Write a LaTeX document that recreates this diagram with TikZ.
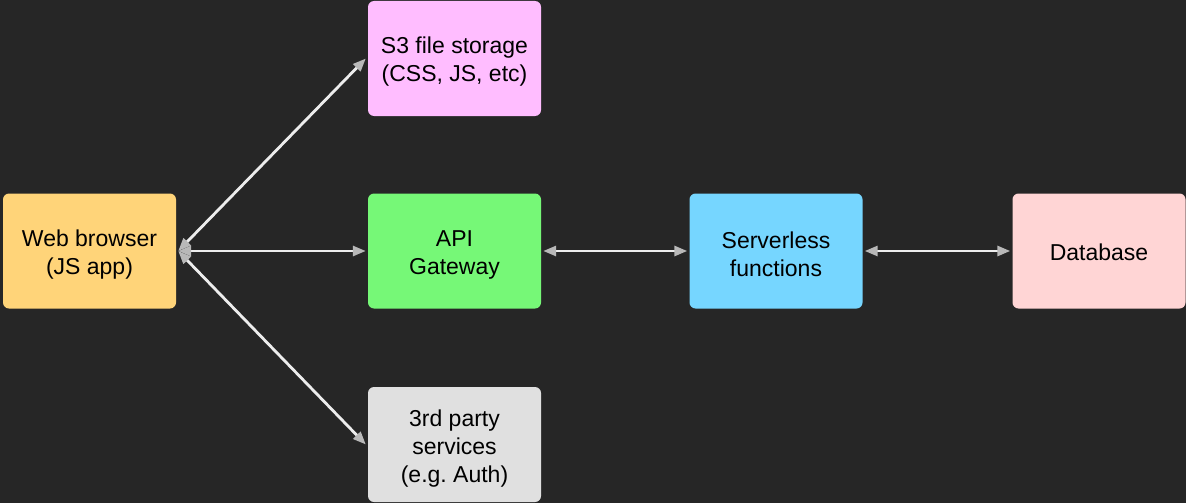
\documentclass[tikz,border=0pt]{standalone}
\usepackage{fontspec}
\setmainfont{Liberation Sans}
\usetikzlibrary{arrows.meta}
\frenchspacing
\definecolor{bg}{HTML}{262626}
\definecolor{cBrowser}{HTML}{FFD479}
\definecolor{cStore}{HTML}{FFBDFF}
\definecolor{cApi}{HTML}{76F877}
\definecolor{cFunc}{HTML}{76D6FF}
\definecolor{cDb}{HTML}{FFD5D5}
\definecolor{cThird}{HTML}{E0E0E0}
\definecolor{linkline}{HTML}{EDEDED}
\definecolor{linktip}{HTML}{B8B8B8}
\tikzset{
  box/.style={rounded corners=6pt, minimum width=173pt, minimum height=115pt,
    inner sep=0pt},
  boxtext/.style={inner sep=0pt, align=center, text=black,
    font=\fontsize{23pt}{28pt}\selectfont},
  link/.style={draw=linkline, line width=2.8pt,
    {Triangle[length=13pt,width=10pt,color=linktip]}-{Triangle[length=13pt,width=10pt,color=linktip]}}
}
\begin{document}
\begin{tikzpicture}[x=1pt,y=-1pt]
  \fill[bg] (0,0) rectangle (1186,503);
  \useasboundingbox (0,0) rectangle (1186,503);

  % boxes
  \node[box, fill=cBrowser] (browser) at (89.5,251) {};
  \node[box, fill=cStore]   (store)   at (454.5,58.5) {};
  \node[box, fill=cApi]     (api)     at (454.5,251) {};
  \node[box, fill=cThird]   (third)   at (454.5,444.5) {};
  \node[box, fill=cFunc]    (func)    at (776,251) {};
  \node[box, fill=cDb]      (db)      at (1099,251) {};

  % labels, set slightly below each box centre
  \node[boxtext] (browser-t) at ([yshift=-3.5pt]browser.center) {Web browser\\(JS app)};
  \node[boxtext] (store-t)   at ([yshift=-3.5pt]store.center)   {S3 file storage\\(CSS, JS, etc)};
  \node[boxtext] (api-t)     at ([yshift=-3.5pt]api.center)     {API\\Gateway};
  \node[boxtext] (third-t)   at ([yshift=-4.5pt]third.center)   {3rd party\\services\\(e.g. Auth)};
  \node[boxtext] (func-t)    at ([yshift=-3.5pt]func.center)    {Serverless\\functions};
  \node[boxtext] (db-t)      at ([yshift=-1pt]db.center)        {Database};

  % connectors
  \draw[link] ([xshift=2pt]browser.east) -- ([xshift=-2pt]store.west);
  \draw[link] ([xshift=2pt]browser.east) -- ([xshift=-2pt]api.west);
  \draw[link] ([xshift=2pt]browser.east) -- ([xshift=-2pt]third.west);
  \draw[link] ([xshift=2pt]api.east) -- ([xshift=-2pt]func.west);
  \draw[link] ([xshift=2pt]func.east) -- ([xshift=-2pt]db.west);
\end{tikzpicture}
\end{document}
